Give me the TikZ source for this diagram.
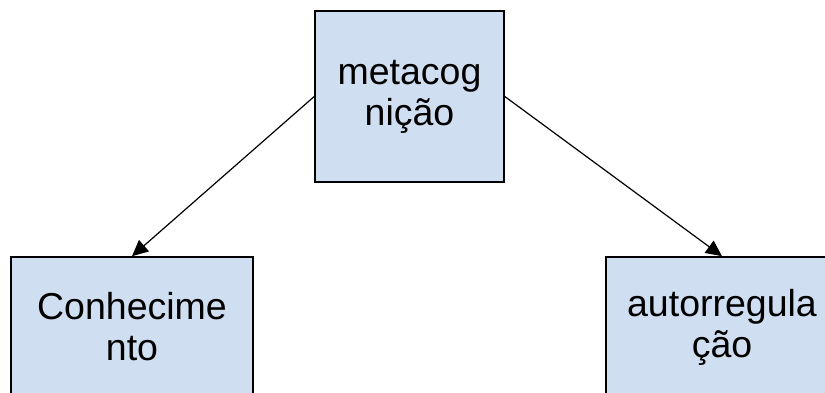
\documentclass[tikz,border=0pt]{standalone}
\usepackage{fontspec}
\setmainfont{Liberation Sans}
\usetikzlibrary{arrows.meta}
\definecolor{boxfill}{RGB}{207,222,240}
\tikzset{
  conceptbox/.style={draw=black, line width=1.6pt, fill=boxfill, inner sep=0pt,
    align=center, font=\fontsize{37.5}{41}\selectfont},
  link/.style={line width=1.2pt, -{Triangle[length=16pt,width=15pt]}}
}
\begin{document}
\begin{tikzpicture}[x=1pt,y=-1pt]
  \useasboundingbox (0,0) rectangle (825,392);
  \clip (0,0) rectangle (825,392);
  \node[conceptbox, minimum width=189pt, minimum height=171pt] (meta) at (409.5,96.5)
    {metacog\\nição};
  \node[conceptbox, minimum width=242pt, minimum height=140pt] (conh) at (132,327)
    {Conhecime\\nto};
  \node[conceptbox, minimum width=232pt, minimum height=140pt] (auto) at (722,327)
    {autorregula\\ção};
  \draw[link] (meta.west) -- (conh.north);
  \draw[link] (meta.east) -- (auto.north);
\end{tikzpicture}
\end{document}
